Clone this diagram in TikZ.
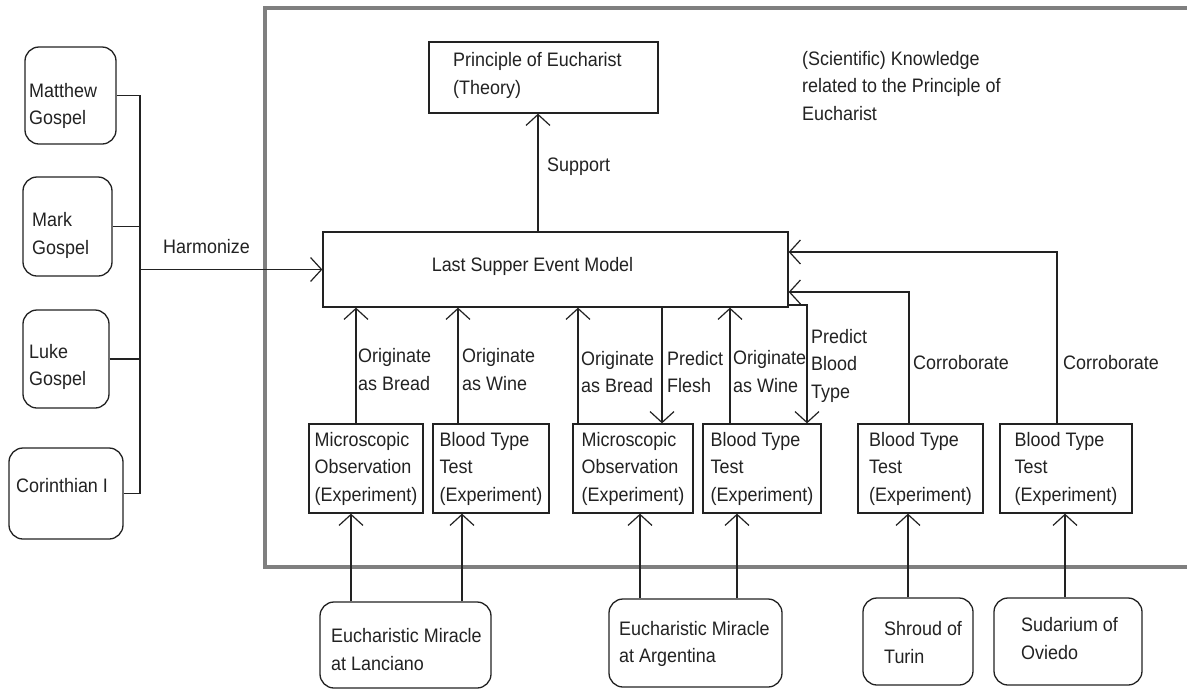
\documentclass[tikz,border=0pt]{standalone}
\usepackage{fontspec}
\setmainfont{Liberation Sans}[FakeStretch=0.92]
\usetikzlibrary{arrows.meta,calc}
\definecolor{ink}{HTML}{222222}
\definecolor{framegray}{HTML}{7F7F7F}
\newcommand{\diafont}{\fontsize{19.5}{27.5}\selectfont}
\begin{document}
\begin{tikzpicture}[x=1pt,y=-1pt,
  txt/.style={font=\diafont, text=ink, inner sep=0pt, align=left, anchor=west},
  ctxt/.style={font=\diafont, text=ink, inner sep=0pt},
  sqbox/.style={draw=ink, line width=1.3pt, inner sep=0pt, font=\diafont, text=ink, align=left},
  expbox/.style={sqbox, minimum height=89pt},
  rbox/.style={draw=ink, line width=1.3pt, rounded corners=14pt, inner sep=0pt},
  conn/.style={draw=ink, line width=1.2pt},
  arr/.style={conn, -{Straight Barb[length=11pt,width=24pt]}}]
\useasboundingbox (0,0) rectangle (1187,689);
\fill[white] (0,0) rectangle (1187,689);

% frame of scientific knowledge
\draw[draw=framegray, line width=4pt] (1195,8) -- (265,8) -- (265,567) -- (1195,567);

% left sources
\node[rbox, minimum width=91pt, minimum height=97pt] (matthew) at (70.5,95.5) {};
\node[txt] (matthewt) at (29,106) {Matthew\\Gospel};
\node[rbox, minimum width=89pt, minimum height=99pt] (mark) at (67.5,226.5) {};
\node[txt] (markt) at (32,235.5) {Mark\\Gospel};
\node[rbox, minimum width=86pt, minimum height=98pt] (luke) at (66,359) {};
\node[txt] (luket) at (29,367) {Luke\\Gospel};
\node[rbox, minimum width=114pt, minimum height=91pt] (cor) at (66,493.5) {};
\node[txt] (cort) at (16,486) {Corinthian I};

% theory and model
\node[sqbox, minimum width=229pt, minimum height=71pt] (prin) at (543.5,77.5) {};
\node[txt] (print) at (453,75.5) {Principle of Eucharist\\(Theory)};
\node[txt] (know) at (802,86) {(Scientific) Knowledge\\related to the Principle of\\Eucharist};
\node[sqbox, minimum width=465pt, minimum height=75pt] (lsm) at (555.5,269.5) {};
\node[ctxt] (lsmt) at (532.5,266) {Last Supper Event Model};

% experiments
\node[expbox, minimum width=114pt] (b1) at (366,468.5) {Microscopic\\Observation\\(Experiment)};
\node[expbox, minimum width=116pt] (b2) at (491,468.5) {Blood Type\\Test\\(Experiment)};
\node[expbox, minimum width=120pt] (b3) at (633,468.5) {Microscopic\\Observation\\(Experiment)};
\node[expbox, minimum width=118pt] (b4) at (762,468.5) {Blood Type\\Test\\(Experiment)};
\node[expbox, minimum width=125pt] (b5) at (920.5,468.5) {Blood Type\\Test\\(Experiment)};
\node[expbox, minimum width=132pt] (b6) at (1066,468.5) {Blood Type\\Test\\(Experiment)};

% bottom sources
\node[rbox, minimum width=171pt, minimum height=86pt] (lan) at (405.5,645) {};
\node[txt] (lant) at (331,649.5) {Eucharistic Miracle\\at Lanciano};
\node[rbox, minimum width=173pt, minimum height=88pt] (arg) at (695.5,643) {};
\node[txt] (argt) at (619,644) {Eucharistic Miracle\\at Argentina};
\node[rbox, minimum width=110pt, minimum height=87pt] (shr) at (918,641.5) {};
\node[txt] (shrt) at (884,642.5) {Shroud of\\Turin};
\node[rbox, minimum width=148pt, minimum height=87pt] (sud) at (1068,641.5) {};
\node[txt] (sudt) at (1021,638.5) {Sudarium of\\Oviedo};

% helper coordinates
\coordinate (bus) at (140,0);
\coordinate (sup) at (538,0);
\coordinate (a1) at (356,0);
\coordinate (a2) at (458,0);
\coordinate (a3) at (578,0);
\coordinate (p1) at (662,0);
\coordinate (a4) at (730,0);
\coordinate (pb) at (807,305);
\coordinate (c5) at (909,292);
\coordinate (c6) at (1057,252);
\coordinate (l1) at (351,0);
\coordinate (l2) at (462,0);
\coordinate (g1) at (640,0);
\coordinate (g2) at (737,0);
\coordinate (s1) at (908,0);
\coordinate (d1) at (1065,0);

% harmonize bus
\draw[conn] (matthew.east) -- (matthew.east -| bus) -- (cor.east -| bus) -- (cor.east);
\draw[conn] (mark.east) -- (mark.east -| bus);
\draw[conn] (luke.east) -- (luke.east -| bus);
\draw[arr] (lsm.west -| bus) -- (lsm.west);
\node[txt] (harm) at (163,247) {Harmonize};

% support
\draw[arr] (lsm.north -| sup) -- (prin.south -| sup);
\node[txt] (supt) at (547,167) {Support};

% experiments to model
\draw[arr] (b1.north -| a1) -- (lsm.south -| a1);
\node[txt] (o1) at (358,369.5) {Originate\\as Bread};
\draw[arr] (b2.north -| a2) -- (lsm.south -| a2);
\node[txt] (o2) at (462,369.5) {Originate\\as Wine};
\draw[arr] (b3.north -| a3) -- (lsm.south -| a3);
\node[txt] (o3) at (581,372) {Originate\\as Bread};
\draw[arr] (lsm.south -| p1) -- (b3.north -| p1);
\node[txt] (pf) at (667,372) {Predict\\Flesh};
\draw[arr] (b4.north -| a4) -- (lsm.south -| a4);
\node[txt] (o4) at (733,371.5) {Originate\\as Wine};
\draw[arr] (lsm.east |- pb) -| (b4.north -| pb);
\node[txt] (pbt) at (811,365.5) {Predict\\Blood\\Type};
\draw[arr] (b5.north -| c5) |- (lsm.east |- c5);
\node[txt] (cr1) at (913,363) {Corroborate};
\draw[arr] (b6.north -| c6) |- (lsm.east |- c6);
\node[txt] (cr2) at (1063,363) {Corroborate};

% sources to experiments
\draw[arr] (lan.north -| l1) -- (b1.south -| l1);
\draw[arr] (lan.north -| l2) -- (b2.south -| l2);
\draw[arr] (arg.north -| g1) -- (b3.south -| g1);
\draw[arr] (arg.north -| g2) -- (b4.south -| g2);
\draw[arr] (shr.north -| s1) -- (b5.south -| s1);
\draw[arr] (sud.north -| d1) -- (b6.south -| d1);
\end{tikzpicture}
\end{document}
